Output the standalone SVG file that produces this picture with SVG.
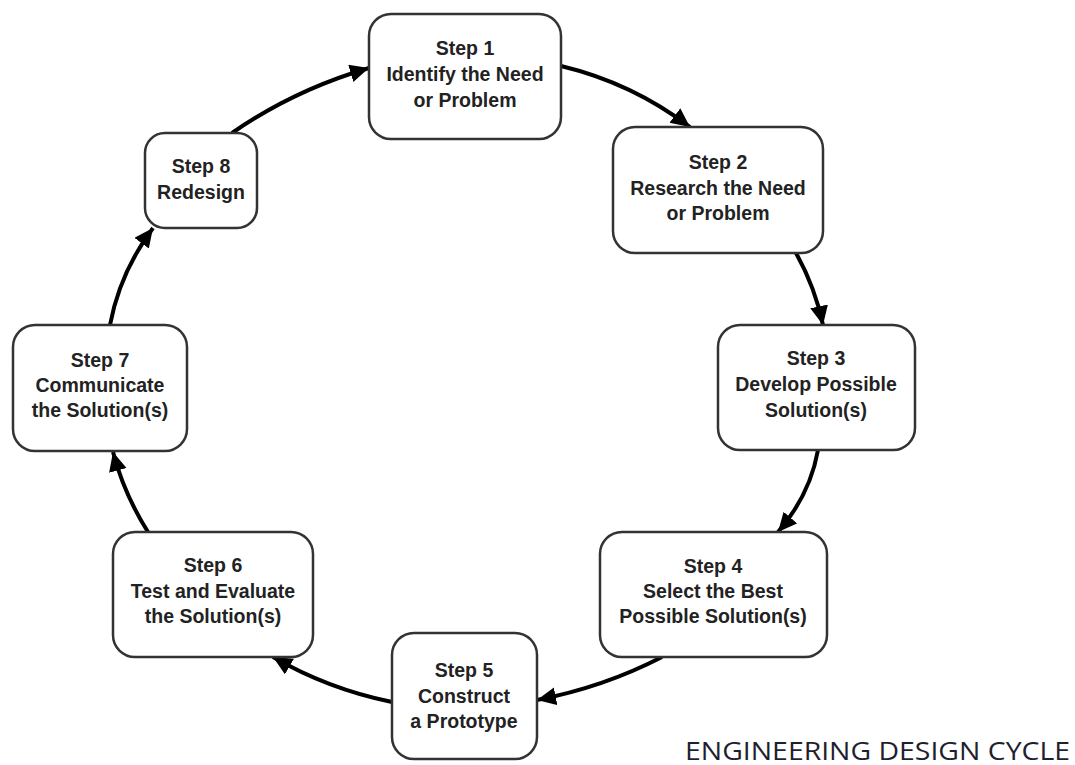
<svg xmlns="http://www.w3.org/2000/svg" width="1075" height="765" viewBox="0 0 1075 765">
<style>
.box{fill:#fff;stroke:#333;stroke-width:2.5}
.lbl{font-family:"Liberation Sans",Arial,sans-serif;font-weight:bold;font-size:19.5px;fill:#222;text-anchor:middle}
.con{fill:none;stroke:#000;stroke-width:4}
.title{font-family:"Open Sans","Liberation Sans",sans-serif;font-size:25px;fill:#1f1f30}
</style>
<defs>
<marker id="ah" markerUnits="userSpaceOnUse" markerWidth="22" markerHeight="20" refX="19" refY="9" orient="auto">
<path d="M0,0 L19,9 L0,18 Z" fill="#000"/>
</marker>
</defs>
<rect width="1075" height="765" fill="#fff"/>
<g id="connectors">
<path class="con" marker-end="url(#ah)" d="M561,66 Q632,83 690,127"/>
<path class="con" marker-end="url(#ah)" d="M796,253 Q815,287 823,325"/>
<path class="con" marker-end="url(#ah)" d="M818,450 Q810,495 778,532"/>
<path class="con" marker-end="url(#ah)" d="M662,657 Q604,687 537,700"/>
<path class="con" marker-end="url(#ah)" d="M392,702 Q328,689 273,657"/>
<path class="con" marker-end="url(#ah)" d="M148,532 Q124,494 113,452"/>
<path class="con" marker-end="url(#ah)" d="M110,325 Q120,272 153,228"/>
<path class="con" marker-end="url(#ah)" d="M232,133 Q294,90 369,68"/>
</g>
<g id="step1">
<rect class="box" x="369" y="14" width="192" height="125" rx="22"/>
<text class="lbl" x="465" y="55">Step 1</text>
<text class="lbl" x="465" y="81">Identify the Need</text>
<text class="lbl" x="465" y="107">or Problem</text>
</g>
<g id="step2">
<rect class="box" x="613" y="127" width="210" height="126" rx="22"/>
<text class="lbl" x="718" y="169">Step 2</text>
<text class="lbl" x="718" y="195">Research the Need</text>
<text class="lbl" x="718" y="220">or Problem</text>
</g>
<g id="step3">
<rect class="box" x="718" y="325" width="197" height="125" rx="22"/>
<text class="lbl" x="816" y="365">Step 3</text>
<text class="lbl" x="816" y="391">Develop Possible</text>
<text class="lbl" x="816" y="417">Solution(s)</text>
</g>
<g id="step4">
<rect class="box" x="600" y="532" width="227" height="125" rx="22"/>
<text class="lbl" x="713" y="573">Step 4</text>
<text class="lbl" x="713" y="598">Select the Best</text>
<text class="lbl" x="713" y="623">Possible Solution(s)</text>
</g>
<g id="step5">
<rect class="box" x="392" y="633" width="145" height="126" rx="22"/>
<text class="lbl" x="464" y="677">Step 5</text>
<text class="lbl" x="464" y="703">Construct</text>
<text class="lbl" x="464" y="728">a Prototype</text>
</g>
<g id="step6">
<rect class="box" x="113" y="532" width="200" height="125" rx="22"/>
<text class="lbl" x="213" y="572">Step 6</text>
<text class="lbl" x="213" y="598">Test and Evaluate</text>
<text class="lbl" x="213" y="623">the Solution(s)</text>
</g>
<g id="step7">
<rect class="box" x="13" y="325" width="174" height="126" rx="22"/>
<text class="lbl" x="100" y="367">Step 7</text>
<text class="lbl" x="100" y="392">Communicate</text>
<text class="lbl" x="100" y="417">the Solution(s)</text>
</g>
<g id="step8">
<rect class="box" x="145" y="133" width="112" height="95" rx="20"/>
<text class="lbl" x="201" y="173">Step 8</text>
<text class="lbl" x="201" y="199">Redesign</text>
</g>
<text class="title" x="685" y="760" textLength="385" lengthAdjust="spacingAndGlyphs">ENGINEERING DESIGN CYCLE</text>
</svg>
